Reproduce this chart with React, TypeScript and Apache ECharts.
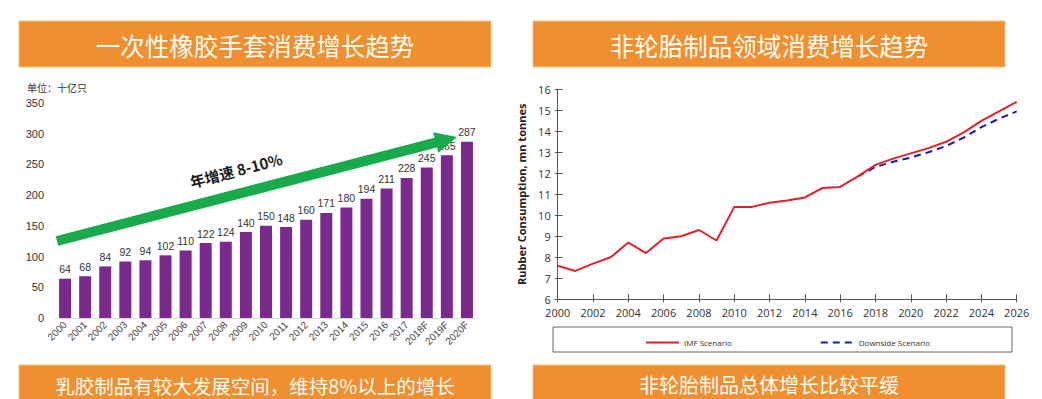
import { useEffect, useRef } from "react";
import * as echarts from "echarts";

const gloveYears = ["2000", "2001", "2002", "2003", "2004", "2005", "2006", "2007", "2008", "2009", "2010", "2011", "2012", "2013", "2014", "2015", "2016", "2017", "2018F", "2019F", "2020F"];
const gloveValues = [64, 68, 84, 92, 94, 102, 110, 122, 124, 140, 150, 148, 160, 171, 180, 194, 211, 228, 245, 265, 287];

const rubberYears = [2000, 2001, 2002, 2003, 2004, 2005, 2006, 2007, 2008, 2009, 2010, 2011, 2012, 2013, 2014, 2015, 2016, 2017, 2018, 2019, 2020, 2021, 2022, 2023, 2024, 2025, 2026];
const imfValues = [7.6, 7.35, 7.7, 8.0, 8.7, 8.2, 8.9, 9.0, 9.3, 8.8, 10.4, 10.4, 10.6, 10.7, 10.85, 11.3, 11.35, 11.85, 12.4, 12.7, 12.95, 13.2, 13.5, 13.95, 14.5, 14.95, 15.4];
const downsideYears = [2017, 2018, 2019, 2020, 2021, 2022, 2023, 2024, 2025, 2026];
const downsideValues = [11.85, 12.3, 12.55, 12.75, 13.0, 13.3, 13.7, 14.2, 14.6, 14.95];

const leftTitle = "一次性橡胶手套消费增长趋势";
const rightTitle = "非轮胎制品领域消费增长趋势";
const leftFooter = "乳胶制品有较大发展空间，维持8%以上的增长";
const rightFooter = "非轮胎制品总体增长比较平缓";
const unitLabel = "单位：十亿只";
const growthLabel = "年增速 8-10%";
const yAxisName = "Rubber Consumption, mn tonnes";
const seriesNames = ["IMF Scenario", "Downside Scenario"];

const ORANGE = "#EF8F2F";
const CJK = '"Noto Sans CJK SC", "Noto Sans", sans-serif';

function banner(x: number, y: number, w: number, h: number, text: string, fontSize: number, ty: number) {
  return [
    { type: "rect", shape: { x, y, width: w, height: h }, style: { fill: ORANGE, stroke: "#F6C27F", lineWidth: 1 }, z: 1 },
    {
      type: "text",
      x: x + w / 2,
      y: ty,
      style: { text, fill: "#FFFBF2", font: `${fontSize}px ${CJK}`, align: "center", verticalAlign: "middle" },
      z: 2,
    },
  ];
}

export default function App() {
  const ref = useRef<HTMLDivElement>(null);
  useEffect(() => {
    if (!ref.current) return;
    const chart = echarts.init(ref.current, undefined, { renderer: "svg" });

    // arrow geometry
    const sx = 57, sy = 241, tx = 457, ty = 137;
    const len = Math.hypot(tx - sx, ty - sy);
    const ux = (tx - sx) / len, uy = (ty - sy) / len;
    const nx = -uy, ny = ux;
    const hw = 5, hh = 10.5, hl = 22;
    const bx = tx - ux * hl, by = ty - uy * hl;
    const arrowPts = [
      [sx + nx * hw, sy + ny * hw],
      [sx - nx * hw, sy - ny * hw],
      [bx - nx * hw, by - ny * hw],
      [bx - nx * hh, by - ny * hh],
      [tx, ty],
      [bx + nx * hh, by + ny * hh],
      [bx + nx * hw, by + ny * hw],
    ];
    const angle = Math.atan2(sy - ty, tx - sx);

    const axisCol = "#555";
    const rightAxisFont = { fontSize: 11, color: "#333", fontFamily: '"Open Sans", sans-serif' };

    chart.setOption({
      animation: false,
      backgroundColor: "#fff",
      legend: {
        left: 640,
        top: 332,
        itemWidth: 33,
        itemHeight: 14,
        itemGap: 88,
        itemStyle: { opacity: 0, color: "transparent", borderWidth: 0 },
        textStyle: { fontSize: 8, color: "#333", fontFamily: '"Open Sans", sans-serif' },
        data: seriesNames,
      },
      grid: [
        { left: 55, right: 565, top: 103, bottom: 81 },
        { left: 557.7, right: 25.3, top: 89.3, bottom: 99.7 },
      ],
      xAxis: [
        {
          type: "category",
          gridIndex: 0,
          data: gloveYears,
          axisLine: { show: true, lineStyle: { color: "#ddd" } },
          axisTick: { show: false },
          axisLabel: { rotate: 45, fontSize: 10, color: "#444", margin: 5, interval: 0, fontFamily: '"Liberation Sans", Arial, sans-serif' },
        },
        {
          type: "value",
          gridIndex: 1,
          min: 2000,
          max: 2026,
          interval: 2,
          splitLine: { show: false },
          axisLine: { show: true, lineStyle: { color: axisCol } },
          axisTick: { show: true, length: 3, lineStyle: { color: axisCol } },
          axisLabel: { ...rightAxisFont, margin: 8, formatter: (v: number) => String(v) },
        },
        {
          type: "value",
          gridIndex: 1,
          min: 2000,
          max: 2026,
          interval: 2,
          position: "bottom",
          splitLine: { show: false },
          axisLine: { show: false },
          axisTick: { show: true, inside: true, length: 5, lineStyle: { color: axisCol } },
          axisLabel: { show: false },
        },
      ],
      yAxis: [
        {
          type: "value",
          gridIndex: 0,
          min: 0,
          max: 350,
          interval: 50,
          splitLine: { show: false },
          axisLine: { show: false },
          axisTick: { show: false },
          axisLabel: { fontSize: 11, color: "#333", margin: 11, fontFamily: '"Liberation Sans", Arial, sans-serif' },
        },
        {
          type: "value",
          gridIndex: 1,
          min: 6,
          max: 16,
          interval: 1,
          splitLine: { show: false },
          axisLine: { show: true, lineStyle: { color: axisCol } },
          axisTick: { show: true, length: 3, lineStyle: { color: axisCol } },
          axisLabel: { ...rightAxisFont, margin: 7 },
          name: yAxisName,
          nameLocation: "middle",
          nameGap: 31,
          nameTextStyle: { fontSize: 11, fontWeight: "bold", color: "#222", fontFamily: '"Open Sans", sans-serif' },
        },
        {
          type: "value",
          gridIndex: 1,
          min: 6,
          max: 16,
          interval: 1,
          position: "left",
          splitLine: { show: false },
          axisLine: { show: false },
          axisTick: { show: true, inside: true, length: 5, lineStyle: { color: axisCol } },
          axisLabel: { show: false },
        },
      ],
      series: [
        {
          type: "bar",
          xAxisIndex: 0,
          yAxisIndex: 0,
          data: gloveValues,
          barWidth: 12,
          itemStyle: { color: "#7A2A8D" },
          label: { show: true, position: "top", distance: 4, fontSize: 10.5, color: "#333", fontFamily: '"Liberation Sans", Arial, sans-serif' },
        },
        {
          name: seriesNames[0],
          type: "line",
          xAxisIndex: 1,
          yAxisIndex: 1,
          data: imfValues.map((v, i) => [rubberYears[i], v]),
          symbol: "none",
          lineStyle: { color: "#E3202C", width: 2 },
          itemStyle: { color: "#E3202C" },
          z: 3,
        },
        {
          name: seriesNames[1],
          type: "line",
          xAxisIndex: 1,
          yAxisIndex: 1,
          data: downsideValues.map((v, i) => [downsideYears[i], v]),
          symbol: "none",
          lineStyle: { color: "#1C1CA8", width: 2, type: [7, 5] },
          itemStyle: { color: "#1C1CA8" },
          z: 2,
        },
      ],
      graphic: [
        ...banner(19, 21, 472, 46, leftTitle, 24.5, 45),
        ...banner(533, 21, 472, 46, rightTitle, 24.5, 45),
        ...banner(19, 365, 472, 40, leftFooter, 19.5, 385.5),
        ...banner(533, 365, 472, 40, rightFooter, 20, 384),
        {
          type: "text",
          x: 27,
          y: 87,
          style: { text: unitLabel, fill: "#333", font: `10px ${CJK}`, verticalAlign: "middle" },
        },
        {
          type: "polygon",
          shape: { points: arrowPts },
          style: { fill: "#19AA4B" },
          z: 10,
        },
        {
          type: "text",
          x: 236,
          y: 170,
          rotation: angle,
          style: { text: growthLabel, fill: "#1a1a1a", font: `bold 15px ${CJK}`, align: "center", verticalAlign: "middle" },
          z: 10,
        },
        {
          type: "rect",
          shape: { x: 553, y: 327, width: 459, height: 25 },
          style: { fill: "transparent", stroke: "#666", lineWidth: 1 },
          z: 0,
        },
      ],
    });
    return () => chart.dispose();
  }, []);
  return <div ref={ref} style={{ position: "fixed", left: 0, top: 0, width: 1042, height: 399 }} />;
}
